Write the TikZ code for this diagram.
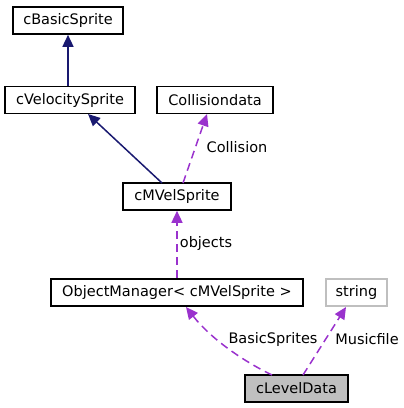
\documentclass[tikz,border=0pt]{standalone}
\usepackage{fontspec}
\setmainfont{DejaVu Sans}
\usetikzlibrary{arrows.meta}
\definecolor{navy}{HTML}{191970}
\definecolor{purp}{HTML}{9A32CD}
\definecolor{grayfill}{HTML}{BFBFBF}
\definecolor{lgray}{HTML}{BFBFBF}
\begin{document}
\begin{tikzpicture}[x=1pt,y=-1pt,
  cls/.style={draw=black,line width=1.6pt,minimum height=27pt,inner sep=0pt,font=\fontsize{14.5}{16}\selectfont},
  inh/.style={draw=navy,line width=1.5pt,-{Triangle[length=12pt,width=11pt]}},
  use/.style={draw=purp,line width=1.5pt,dash pattern=on 8pt off 5pt,-{Triangle[length=12pt,width=11pt]}},
  lbl/.style={font=\fontsize{14.5}{16}\selectfont,text=black}]
\useasboundingbox (0,0) rectangle (404,408);
\node[cls,minimum width=110pt] (bs) at (68,20.5) {cBasicSprite};
\node[cls,minimum width=130pt] (vs) at (70,100) {cVelocitySprite};
\node[cls,minimum width=116pt] (cd) at (215,100) {Collisiondata};
\node[cls,minimum width=108pt] (mv) at (177,196.5) {cMVelSprite};
\node[cls,minimum width=252pt] (om) at (177,292.5) {ObjectManager< cMVelSprite >};
\node[cls,draw=lgray,line width=1.2pt,minimum width=61pt] (st) at (356.5,292.5) {string};
\node[cls,fill=grayfill,minimum width=103pt] (ld) at (296.5,388.5) {cLevelData};
\draw[inh] (vs.north -| bs.south) -- (bs.south);
\coordinate (a1) at (162,183);
\coordinate (a2) at (88,114);
\draw[inh] (a1) -- (a2);
\coordinate (c1) at (183,183);
\coordinate (c2) at (207,114);
\draw[use] (c1) -- (c2);
\node[lbl] (lc) at (237,147) {Collision};
\draw[use] (om.north) -- (mv.south);
\node[lbl] (lo) at (206,243) {objects};
\coordinate (b1) at (272,375);
\coordinate (b2) at (186,307);
\draw[use] (b1) .. controls (245,362) and (212,340) .. (b2);
\node[lbl] (lb) at (273,339) {BasicSprites};
\coordinate (m1) at (303,375);
\coordinate (m2) at (346,307);
\draw[use] (m1) -- (m2);
\node[lbl] (lm) at (367,339) {Musicfile};
\end{tikzpicture}
\end{document}
